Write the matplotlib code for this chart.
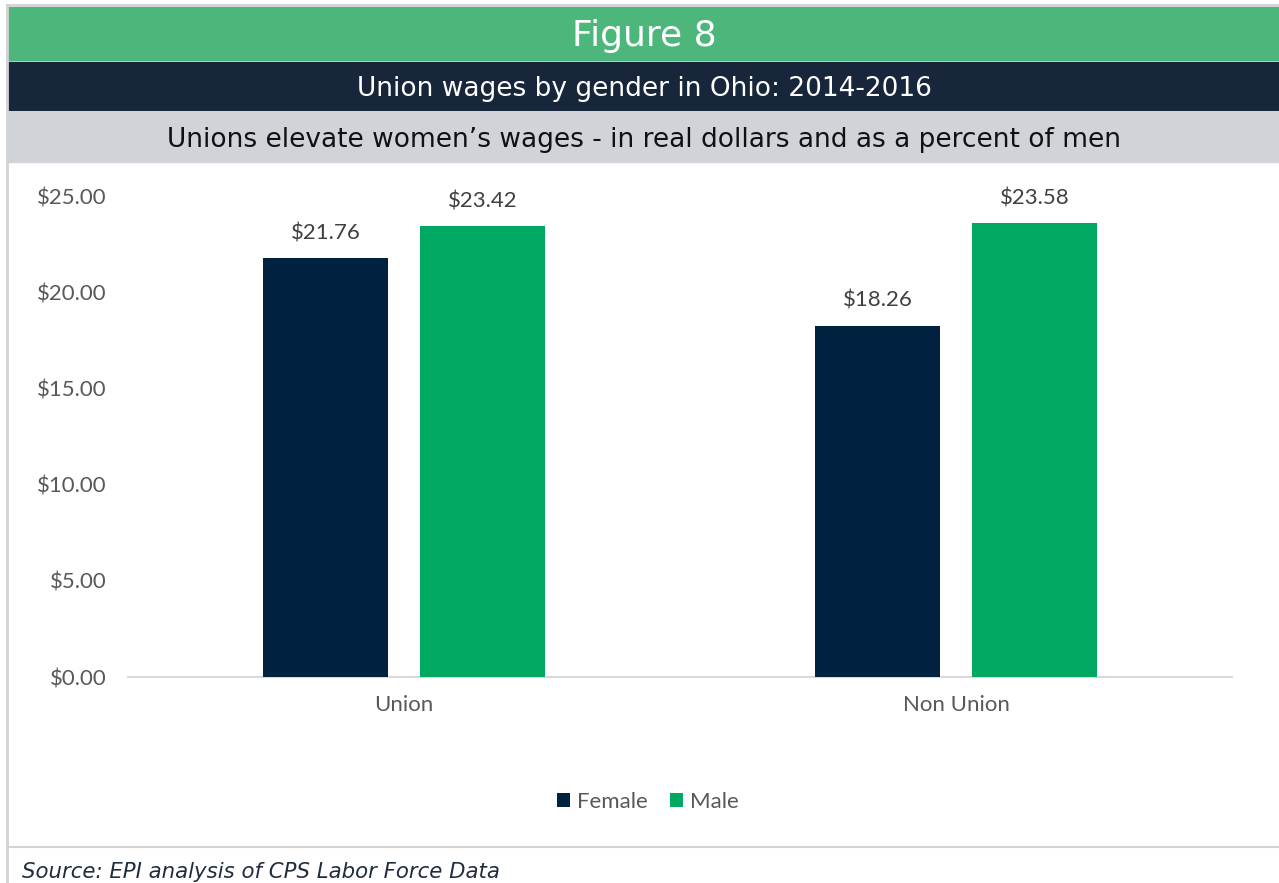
import numpy as np
import matplotlib.pyplot as plt
from matplotlib.patches import Rectangle
from matplotlib.lines import Line2D

categories = ["Union", "Non Union"]
female = [21.76, 18.26]
male = [23.42, 23.58]
y_ticks = [0, 5, 10, 15, 20, 25]
y_tick_labels = ["$0.00", "$5.00", "$10.00", "$15.00", "$20.00", "$25.00"]

W, H = 1279, 883
fig = plt.figure(figsize=(W / 100, H / 100), dpi=100)

def fx(px):
    return px / W

def fy(py):
    return 1 - py / H

# header bands
fig.patches.append(Rectangle((fx(7), fy(60)), fx(1272), 53 / H, transform=fig.transFigure,
                             color="#4db77b", zorder=0))
fig.patches.append(Rectangle((fx(7), fy(110)), fx(1272), 48 / H, transform=fig.transFigure,
                             color="#17263a", zorder=0))
fig.patches.append(Rectangle((fx(7), fy(162)), fx(1272), 50 / H, transform=fig.transFigure,
                             color="#d0d3d8", zorder=0))
# frame lines
fig.lines.append(Line2D([fx(7), fx(7)], [fy(883), fy(5)], transform=fig.transFigure,
                        color="#d3d3d3", lw=2))
fig.lines.append(Line2D([fx(7), fx(1279)], [fy(5), fy(5)], transform=fig.transFigure,
                        color="#d3d3d3", lw=2))
fig.lines.append(Line2D([fx(7), fx(1279)], [fy(847), fy(847)], transform=fig.transFigure,
                        color="#d3d3d3", lw=1.5))

fig.text(fx(644), fy(36), "Figure 8", ha="center", va="center", color="white",
         fontsize=26, family="DejaVu Sans")
fig.text(fx(644), fy(89), "Union wages by gender in Ohio: 2014-2016", ha="center", va="center",
         color="white", fontsize=19, family="DejaVu Sans")
fig.text(fx(644), fy(140), "Unions elevate women\u2019s wages - in real dollars and as a percent of men",
         ha="center", va="center", color="#111111", fontsize=19, family="DejaVu Sans")
fig.text(fx(22), fy(872), "Source: EPI analysis of CPS Labor Force Data", ha="left", va="center",
         color="#1f2d3d", fontsize=15.3, family="DejaVu Sans", style="italic")

ax = fig.add_axes([fx(128), fy(677), fx(1232) - fx(128), (677 - 196) / H])
x = np.arange(len(categories))
w = 0.226
off = 0.142
b1 = ax.bar(x - off, female, w, color="#00223f", label="Female", zorder=3)
b2 = ax.bar(x + off, male, w, color="#00a862", label="Male", zorder=3)
for bars, vals in [(b1, female), (b2, male)]:
    for b, v in zip(bars, vals):
        ax.annotate(f"${v:.2f}", (b.get_x() + b.get_width() / 2, v), xytext=(0, 11),
                    textcoords="offset points", ha="center", va="bottom", fontsize=16,
                    color="#404040", family="Lato", annotation_clip=False)

ax.set_xlim(-0.5, 1.5)
ax.set_ylim(0, 25)
ax.set_yticks(y_ticks)
ax.set_yticklabels(y_tick_labels, family="Lato", fontsize=16, color="#595959")
ax.set_xticks(x)
ax.set_xticklabels(categories, family="Lato", fontsize=16, color="#595959")
ax.tick_params(length=0)
ax.tick_params(axis="y", pad=15.5)
ax.tick_params(axis="x", pad=13)
for s in ["top", "right", "left"]:
    ax.spines[s].set_visible(False)
ax.spines["bottom"].set_color("#d9d9d9")
ax.spines["bottom"].set_linewidth(1.5)
ax.patch.set_alpha(0)

leg = fig.legend(handles=[b1, b2], loc="center", bbox_to_anchor=(fx(648), fy(802)), ncol=2,
                 frameon=False, prop={"family": "Lato", "size": 16}, handlelength=0.6,
                 handleheight=0.6, handletextpad=0.3, columnspacing=1.0)
for t in leg.get_texts():
    t.set_color("#595959")

fig.savefig("out.png", dpi=100)
